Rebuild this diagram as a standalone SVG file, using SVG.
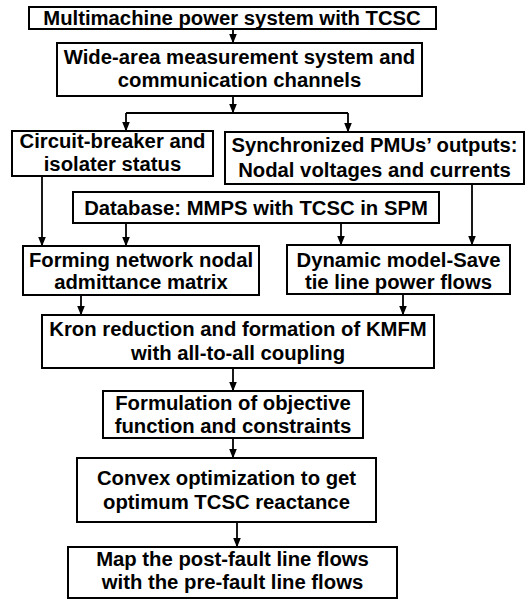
<svg xmlns="http://www.w3.org/2000/svg" width="526" height="599" viewBox="0 0 526 599">
  <defs>
    <marker id="arrow" markerWidth="10" markerHeight="9" refX="9.5" refY="4.5" orient="auto" markerUnits="userSpaceOnUse">
      <path d="M0,0.5 L10,4.5 L0,8.5 Z" fill="#000"/>
    </marker>
    <style>
      .box { fill: #fff; stroke: #000; stroke-width: 2; }
      .lbl { font-family: "Liberation Sans", Arial, sans-serif; font-weight: bold; font-size: 20.3px; fill: #000; text-anchor: middle; }
      .wire { fill: none; stroke: #000; stroke-width: 1.8; }
      .wire.head { marker-end: url(#arrow); }
    </style>
  </defs>
  <rect width="526" height="599" fill="#fff"/>

  <g id="connectors">
    <path class="wire head" d="M233,29 V43"/>
    <path class="wire head" d="M233,96 V113"/>
    <path class="wire" d="M126,113 H348"/>
    <path class="wire head" d="M126,113 V131"/>
    <path class="wire head" d="M348,113 V132"/>
    <path class="wire head" d="M42,176 V246"/>
    <path class="wire head" d="M126,223 V246"/>
    <path class="wire head" d="M341,223 V245"/>
    <path class="wire head" d="M472,184 V245"/>
    <path class="wire head" d="M81,295 V315"/>
    <path class="wire head" d="M403,294 V315"/>
    <path class="wire head" d="M233,368 V391"/>
    <path class="wire head" d="M233,438 V458"/>
    <path class="wire head" d="M237,522 V547"/>
  </g>

  <g id="n-system">
    <rect class="box" x="29" y="7" width="407" height="22"/>
    <text class="lbl" x="232" y="25">Multimachine power system with TCSC</text>
  </g>
  <g id="n-wams">
    <rect class="box" x="57" y="43" width="365" height="53"/>
    <text class="lbl" x="239.5" y="64">Wide-area measurement system and</text>
    <text class="lbl" x="239.5" y="87">communication channels</text>
  </g>
  <g id="n-breaker">
    <rect class="box" x="12" y="131" width="201" height="45"/>
    <text class="lbl" x="112.5" y="148">Circuit-breaker and</text>
    <text class="lbl" x="112.5" y="171">isolater status</text>
  </g>
  <g id="n-pmu">
    <rect class="box" x="225" y="132" width="299" height="52"/>
    <text class="lbl" x="374.5" y="152">Synchronized PMUs’ outputs:</text>
    <text class="lbl" x="374.5" y="177">Nodal voltages and currents</text>
  </g>
  <g id="n-database">
    <rect class="box" x="73" y="192" width="366" height="31"/>
    <text class="lbl" x="256" y="215">Database: MMPS with TCSC in SPM</text>
  </g>
  <g id="n-admittance">
    <rect class="box" x="23" y="246" width="236" height="49"/>
    <text class="lbl" x="141" y="267">Forming network nodal</text>
    <text class="lbl" x="141" y="289">admittance matrix</text>
  </g>
  <g id="n-dynamic">
    <rect class="box" x="287" y="245" width="223" height="49"/>
    <text class="lbl" x="398.5" y="267">Dynamic model-Save</text>
    <text class="lbl" x="398.5" y="289">tie line power flows</text>
  </g>
  <g id="n-kron">
    <rect class="box" x="42" y="315" width="392" height="53"/>
    <text class="lbl" x="238" y="336">Kron reduction and formation of KMFM</text>
    <text class="lbl" x="238" y="360">with all-to-all coupling</text>
  </g>
  <g id="n-objective">
    <rect class="box" x="103" y="391" width="260" height="47"/>
    <text class="lbl" x="233" y="410">Formulation of objective</text>
    <text class="lbl" x="233" y="433">function and constraints</text>
  </g>
  <g id="n-convex">
    <rect class="box" x="77" y="458" width="299" height="64"/>
    <text class="lbl" x="226.5" y="485">Convex optimization to get</text>
    <text class="lbl" x="226.5" y="509">optimum TCSC reactance</text>
  </g>
  <g id="n-map">
    <rect class="box" x="68" y="547" width="329" height="51"/>
    <text class="lbl" x="232.5" y="566">Map the post-fault line flows</text>
    <text class="lbl" x="232.5" y="589">with the pre-fault line flows</text>
  </g>
</svg>
